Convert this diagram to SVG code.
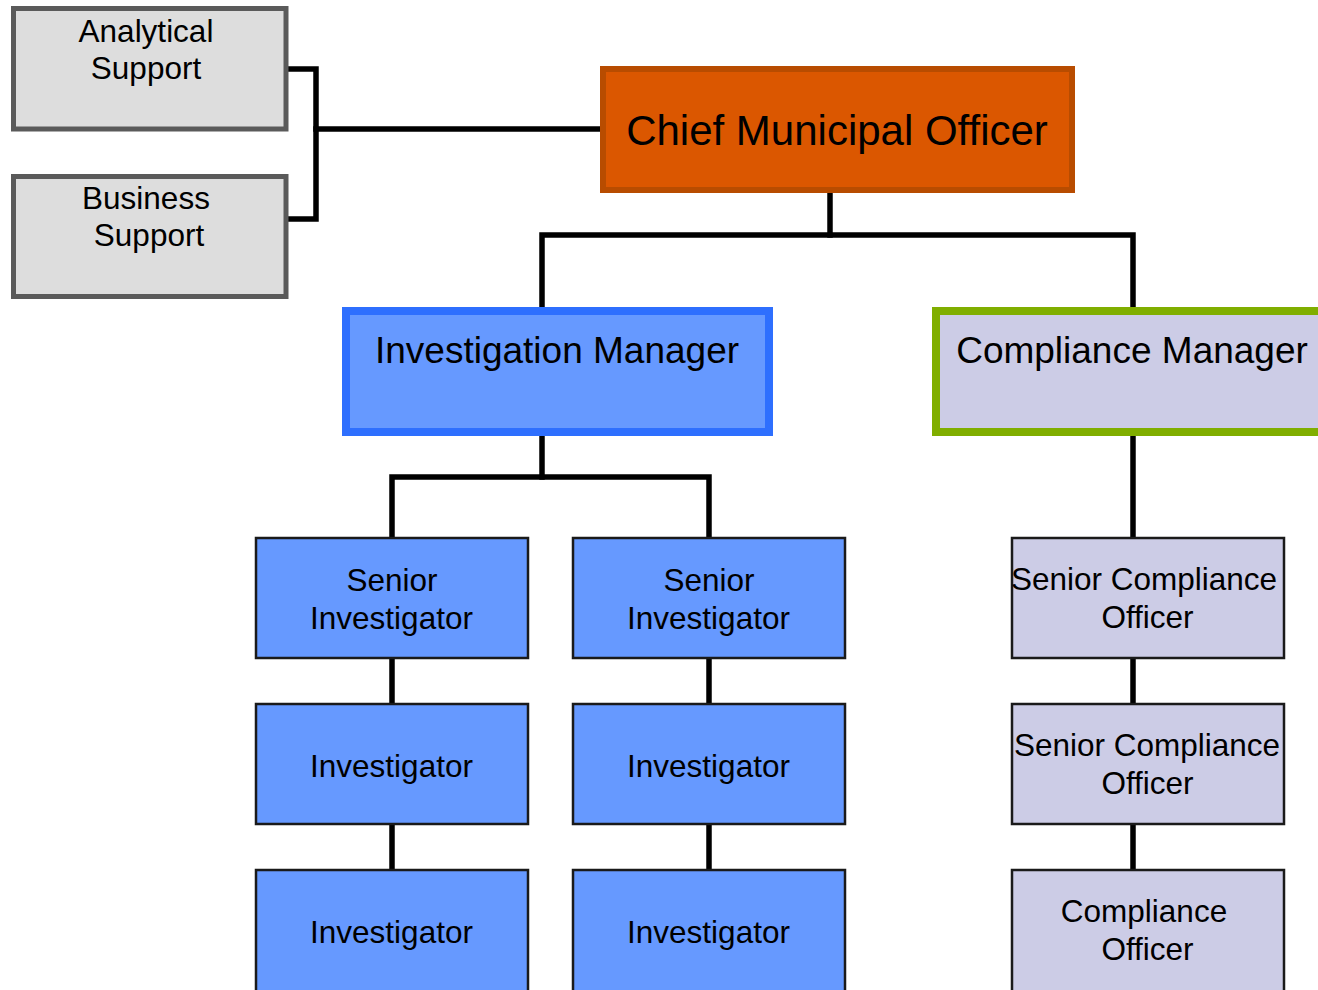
<svg xmlns="http://www.w3.org/2000/svg" width="1318" height="990" viewBox="0 0 1318 990">
<style>
text{font-family:"Liberation Sans",Arial,sans-serif;fill:#000;text-anchor:middle}
.s{font-size:31.5px}
.l{font-size:37px}
.xl{font-size:42px}
.gray{fill:#dddddd;stroke:#5a5a5a;stroke-width:5}
.blue{fill:#6699ff;stroke:#1a1a1a;stroke-width:2.5}
.lav{fill:#cccce6;stroke:#1a1a1a;stroke-width:2.5}
.c{fill:none;stroke:#000;stroke-width:5.5;stroke-linecap:square;stroke-linejoin:miter}
</style>
<rect width="1318" height="990" fill="#ffffff"/>
<g id="connectors">
<path class="c" d="M289 69 H316 V219 H289"/>
<path class="c" d="M316 129 H600"/>
<path class="c" d="M830 193 V235"/>
<path class="c" d="M542 307 V235 H1133 V307"/>
<path class="c" d="M542 436 V477"/>
<path class="c" d="M392 537 V477 H709 V537"/>
<path class="c" d="M392 659 V703 M392 825 V869"/>
<path class="c" d="M709 659 V703 M709 825 V869"/>
<path class="c" d="M1133 436 V536"/>
<path class="c" d="M1133 659 V703 M1133 825 V869"/>
</g>
<g id="analytical-support">
<rect class="gray" x="13.5" y="8.5" width="272.5" height="120.5"/>
<text class="s" x="146" y="42">Analytical</text>
<text class="s" x="146" y="79">Support</text>
</g>
<g id="business-support">
<rect class="gray" x="13.5" y="176.5" width="272.5" height="120"/>
<text class="s" x="146" y="209">Business</text>
<text class="s" x="149" y="246">Support</text>
</g>
<g id="chief-municipal-officer">
<rect x="603" y="69" width="469" height="121" fill="#db5700" stroke="#b84c00" stroke-width="6"/>
<text class="xl" x="837" y="145">Chief Municipal Officer</text>
</g>
<g id="investigation-manager">
<rect x="346" y="311" width="423" height="121" fill="#6699ff" stroke="#2e6ffe" stroke-width="8"/>
<text class="l" x="557" y="363">Investigation Manager</text>
</g>
<g id="compliance-manager">
<rect x="936" y="311" width="394" height="121" fill="#cccce6" stroke="#80ae00" stroke-width="8"/>
<text class="l" x="1132" y="363">Compliance Manager</text>
</g>
<g id="senior-investigator-1">
<rect class="blue" x="256" y="538" width="272" height="120"/>
<text class="s" x="392" y="591">Senior</text>
<text class="s" x="391.5" y="629">Investigator</text>
</g>
<g id="senior-investigator-2">
<rect class="blue" x="573" y="538" width="272" height="120"/>
<text class="s" x="709" y="591">Senior</text>
<text class="s" x="708.5" y="629">Investigator</text>
</g>
<g id="investigator-1a">
<rect class="blue" x="256" y="704" width="272" height="120"/>
<text class="s" x="391.5" y="777">Investigator</text>
</g>
<g id="investigator-2a">
<rect class="blue" x="573" y="704" width="272" height="120"/>
<text class="s" x="708.5" y="777">Investigator</text>
</g>
<g id="investigator-1b">
<rect class="blue" x="256" y="870" width="272" height="130"/>
<text class="s" x="391.5" y="943">Investigator</text>
</g>
<g id="investigator-2b">
<rect class="blue" x="573" y="870" width="272" height="130"/>
<text class="s" x="708.5" y="943">Investigator</text>
</g>
<g id="senior-compliance-officer-1">
<rect class="lav" x="1012" y="538" width="272" height="120"/>
<text class="s" x="1144" y="590">Senior Compliance</text>
<text class="s" x="1147.5" y="628">Officer</text>
</g>
<g id="senior-compliance-officer-2">
<rect class="lav" x="1012" y="704" width="272" height="120"/>
<text class="s" x="1147" y="756">Senior Compliance</text>
<text class="s" x="1147.5" y="794">Officer</text>
</g>
<g id="compliance-officer">
<rect class="lav" x="1012" y="870" width="272" height="130"/>
<text class="s" x="1144" y="922">Compliance</text>
<text class="s" x="1147.5" y="960">Officer</text>
</g>
</svg>
